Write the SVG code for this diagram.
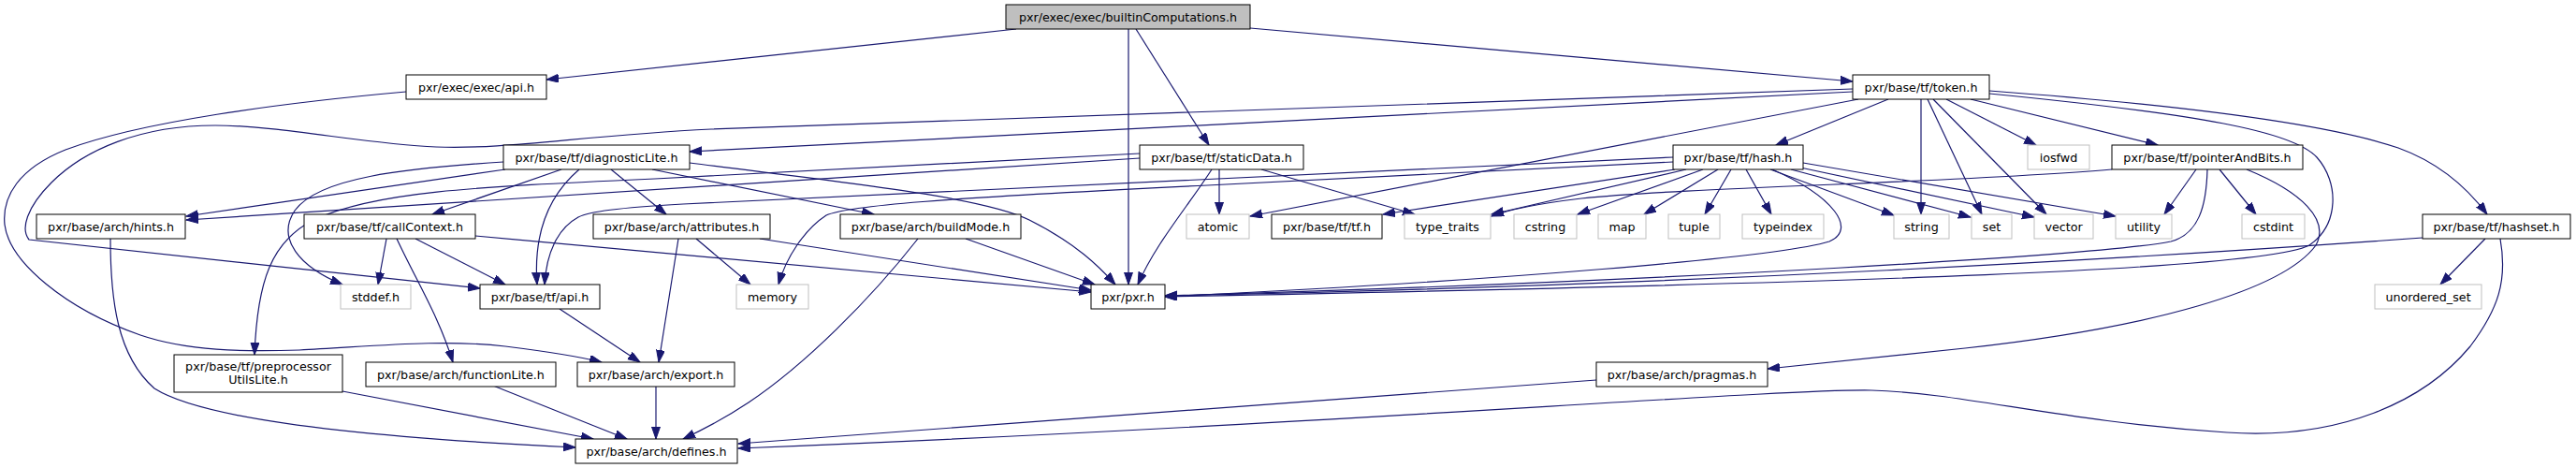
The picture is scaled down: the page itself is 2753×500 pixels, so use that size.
<svg xmlns="http://www.w3.org/2000/svg" width="2753" height="500" viewBox="0 0 2753 500">
<defs>
<marker id="a" markerUnits="userSpaceOnUse" markerWidth="14" markerHeight="10" refX="13" refY="4.5" orient="auto">
<path d="M0,0 L13,4.5 L0,9 z" fill="#191970" stroke="#191970" stroke-width="1"/>
</marker>
<style>
.n rect{fill:#fff;stroke:#000;stroke-width:1}
.x rect{fill:#fff;stroke:#bfbfbf;stroke-width:1}
.r rect{fill:#bfbfbf;stroke:#000;stroke-width:1}
text{font-family:"DejaVu Sans",sans-serif;font-size:12.7px;text-anchor:middle;fill:#000}
#edges path{fill:none;stroke:#191970;stroke-width:1.2;marker-end:url(#a)}
</style>
</defs>
<rect width="2753" height="500" fill="#fff"/>
<g id="edges">
<path d="M1086,31 L584,85"/>
<path d="M1206,31 L1206,304"/>
<path d="M1214,31 L1292,155"/>
<path d="M1336,30 L1980,87"/>
<path d="M434,98 C300,110 150,130 70,160 C20,180 2,210 5,240 C10,280 70,330 150,358 C200,375 260,376 320,374 C400,370 470,362 540,370 C580,375 620,381 643,387"/>
<path d="M1980,98 L737,162"/>
<path d="M1980,95 L760,138 C620,145 540,160 466,157 C390,154 300,134 230,134 C150,134 90,160 55,195 C28,222 22,245 31,256 L513,308"/>
<path d="M2018,106 L1898,155"/>
<path d="M1986,106 L1336,231"/>
<path d="M2053,106 L2053,229"/>
<path d="M2060,106 L2118,229"/>
<path d="M2066,106 L2187,229"/>
<path d="M2080,106 L2176,155"/>
<path d="M2106,106 L2306,155"/>
<path d="M2126,97 C2300,110 2480,130 2563,158 C2610,175 2640,205 2658,229"/>
<path d="M2126,100 C2350,122 2450,140 2476,168 C2500,195 2500,240 2468,262 C2420,288 2000,302 1245,317"/>
<path d="M1790,181 L1478,229"/>
<path d="M1802,181 L1594,229"/>
<path d="M1820,181 L1686,229"/>
<path d="M1836,181 L1757,229"/>
<path d="M1850,181 L1822,229"/>
<path d="M1866,181 L1893,229"/>
<path d="M1892,181 L2024,230"/>
<path d="M1914,181 L2106,232"/>
<path d="M1924,179 L2174,232"/>
<path d="M1927,174 L2261,231"/>
<path d="M1894,181 C1960,210 1985,245 1955,258 C1900,275 1600,300 1245,317"/>
<path d="M1788,168 L730,218 C660,222 630,226 618,232 C596,244 584,270 582,304"/>
<path d="M1788,173 L1290,198 C1000,212 905,220 883,230 C860,245 840,275 832,304"/>
<path d="M1218,169 L199,235"/>
<path d="M1218,164 L700,191 C500,200 400,205 335,235 C290,258 275,300 272,379"/>
<path d="M1303,181 L1303,229"/>
<path d="M1348,181 L1512,229"/>
<path d="M1295,181 C1270,220 1235,260 1216,304"/>
<path d="M540,181 L199,231"/>
<path d="M538,173 C430,180 340,190 315,225 C295,255 320,285 366,304"/>
<path d="M600,181 L462,229"/>
<path d="M619,181 C585,210 570,250 574,304"/>
<path d="M653,181 L712,229"/>
<path d="M697,181 L934,229"/>
<path d="M737,174 C900,195 1050,210 1100,235 C1150,260 1175,285 1192,304"/>
<path d="M413,255 L404,304"/>
<path d="M424,255 C445,300 470,340 484,387"/>
<path d="M444,255 L540,304"/>
<path d="M508,252 L1166,312"/>
<path d="M725,255 L704,387"/>
<path d="M744,255 L802,304"/>
<path d="M812,255 L1166,310"/>
<path d="M981,255 C930,320 860,390 800,430 C770,450 745,462 730,469"/>
<path d="M1032,255 L1170,304"/>
<path d="M118,255 C118,320 125,380 165,415 C220,450 400,468 615,478"/>
<path d="M366,418 L634,469"/>
<path d="M527,412 L670,469"/>
<path d="M701,412 L701,469"/>
<path d="M598,330 L684,387"/>
<path d="M1706,406 L789,474"/>
<path d="M2672,255 C2680,300 2670,330 2640,370 C2590,430 2500,470 2380,462 C2200,450 2100,420 2000,417 C1900,415 1400,455 789,479"/>
<path d="M2656,255 L2608,304"/>
<path d="M2589,254 C2300,275 1800,305 1245,316"/>
<path d="M2347,181 L2313,229"/>
<path d="M2372,181 L2411,229"/>
<path d="M2359,181 C2358,220 2350,250 2320,258 C2250,272 1800,300 1245,316"/>
<path d="M2401,181 C2460,205 2490,235 2475,262 C2440,310 2300,350 2100,372 L1889,394"/>
<path d="M2257,181 C2100,195 1800,200 1690,212 C1640,218 1610,225 1594,231"/>
</g>
<g id="n0" class="r"><rect x="1075" y="5" width="261" height="26"/><text x="1205.5" y="22.5">pxr/exec/exec/builtinComputations.h</text></g>
<g id="n1" class="n"><rect x="434" y="80" width="150" height="26"/><text x="509" y="97.5">pxr/exec/exec/api.h</text></g>
<g id="n2" class="n"><rect x="1980" y="80" width="146" height="26"/><text x="2053" y="97.5">pxr/base/tf/token.h</text></g>
<g id="n3" class="n"><rect x="538" y="155" width="199" height="26"/><text x="637.5" y="172.5">pxr/base/tf/diagnosticLite.h</text></g>
<g id="n4" class="n"><rect x="1218" y="155" width="175" height="26"/><text x="1305.5" y="172.5">pxr/base/tf/staticData.h</text></g>
<g id="n5" class="n"><rect x="1788" y="155" width="139" height="26"/><text x="1857.5" y="172.5">pxr/base/tf/hash.h</text></g>
<g id="n6" class="x"><rect x="2167" y="155" width="66" height="26"/><text x="2200" y="172.5">iosfwd</text></g>
<g id="n7" class="n"><rect x="2257" y="155" width="204" height="26"/><text x="2359" y="172.5">pxr/base/tf/pointerAndBits.h</text></g>
<g id="n8" class="n"><rect x="39" y="229" width="159" height="26"/><text x="118.5" y="246.5">pxr/base/arch/hints.h</text></g>
<g id="n9" class="n"><rect x="325" y="229" width="183" height="26"/><text x="416.5" y="246.5">pxr/base/tf/callContext.h</text></g>
<g id="n10" class="n"><rect x="634" y="229" width="189" height="26"/><text x="728.5" y="246.5">pxr/base/arch/attributes.h</text></g>
<g id="n11" class="n"><rect x="898" y="229" width="193" height="26"/><text x="994.5" y="246.5">pxr/base/arch/buildMode.h</text></g>
<g id="n12" class="x"><rect x="1268" y="229" width="67" height="26"/><text x="1301.5" y="246.5">atomic</text></g>
<g id="n13" class="n"><rect x="1359" y="229" width="118" height="26"/><text x="1418" y="246.5">pxr/base/tf/tf.h</text></g>
<g id="n14" class="x"><rect x="1501" y="229" width="92" height="26"/><text x="1547" y="246.5">type_traits</text></g>
<g id="n15" class="x"><rect x="1618" y="229" width="67" height="26"/><text x="1651.5" y="246.5">cstring</text></g>
<g id="n16" class="x"><rect x="1708" y="229" width="51" height="26"/><text x="1733.5" y="246.5">map</text></g>
<g id="n17" class="x"><rect x="1783" y="229" width="55" height="26"/><text x="1810.5" y="246.5">tuple</text></g>
<g id="n18" class="x"><rect x="1862" y="229" width="87" height="26"/><text x="1905.5" y="246.5">typeindex</text></g>
<g id="n19" class="x"><rect x="2024" y="229" width="59" height="26"/><text x="2053.5" y="246.5">string</text></g>
<g id="n20" class="x"><rect x="2107" y="229" width="43" height="26"/><text x="2128.5" y="246.5">set</text></g>
<g id="n21" class="x"><rect x="2174" y="229" width="63" height="26"/><text x="2205.5" y="246.5">vector</text></g>
<g id="n22" class="x"><rect x="2261" y="229" width="60" height="26"/><text x="2291" y="246.5">utility</text></g>
<g id="n23" class="x"><rect x="2396" y="229" width="67" height="26"/><text x="2429.5" y="246.5">cstdint</text></g>
<g id="n24" class="n"><rect x="2589" y="229" width="158" height="26"/><text x="2668" y="246.5">pxr/base/tf/hashset.h</text></g>
<g id="n25" class="x"><rect x="364" y="304" width="75" height="26"/><text x="401.5" y="321.5">stddef.h</text></g>
<g id="n26" class="n"><rect x="513" y="304" width="128" height="26"/><text x="577" y="321.5">pxr/base/tf/api.h</text></g>
<g id="n27" class="x"><rect x="787" y="304" width="77" height="26"/><text x="825.5" y="321.5">memory</text></g>
<g id="n28" class="n"><rect x="1166" y="304" width="79" height="26"/><text x="1205.5" y="321.5">pxr/pxr.h</text></g>
<g id="n29" class="x"><rect x="2538" y="304" width="114" height="26"/><text x="2595" y="321.5">unordered_set</text></g>
<g id="n30" class="n"><rect x="186" y="379" width="180" height="40"/><text x="276" y="395.5">pxr/base/tf/preprocessor</text><text x="276" y="410">UtilsLite.h</text></g>
<g id="n31" class="n"><rect x="391" y="387" width="203" height="26"/><text x="492.5" y="404.5">pxr/base/arch/functionLite.h</text></g>
<g id="n32" class="n"><rect x="617" y="387" width="168" height="26"/><text x="701" y="404.5">pxr/base/arch/export.h</text></g>
<g id="n33" class="n"><rect x="1706" y="387" width="183" height="26"/><text x="1797.5" y="404.5">pxr/base/arch/pragmas.h</text></g>
<g id="n34" class="n"><rect x="615" y="469" width="173" height="26"/><text x="701.5" y="486.5">pxr/base/arch/defines.h</text></g>
</svg>
